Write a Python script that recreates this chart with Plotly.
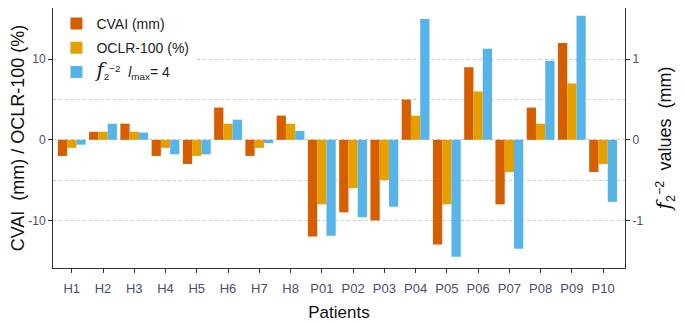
import plotly.graph_objects as go

patients = ["H1","H2","H3","H4","H5","H6","H7","H8","P01","P02","P03","P04","P05","P06","P07","P08","P09","P10"]
cvai = [-2, 1, 2, -2, -3, 4, -2, 3, -12, -9, -10, 5, -13, 9, -8, 4, 12, -4]
oclr = [-1, 1, 1, -1, -2, 2, -1, 2, -8, -6, -5, 3, -8, 6, -4, 2, 7, -3]
f2 = [-0.06, 0.20, 0.09, -0.18, -0.18, 0.25, -0.04, 0.11, -1.19, -0.96, -0.83, 1.50, -1.45, 1.13, -1.35, 0.98, 1.54, -0.77]

left_ticks = [-10, 0, 10]
minor_ticks = [-5, 5]
right_ticks = [-1, 0, 1]

c_cvai = "#D55E00"
c_oclr = "#E69F00"
c_f2 = "#56B4E9"
tick_col = "#4D4D6A"
axis_col = "#333333"

yr = [-15.9, 16.35]

f_math = "<span style='font-family:DejaVu Serif, serif;font-size:20px'><i>f</i></span><sub>2</sub><sup>−2</sup>"

fig = go.Figure()
fig.add_trace(go.Bar(x=patients, y=cvai, name="CVAI (mm)", marker_color=c_cvai,
                     offsetgroup="1", legendgroup="a", yaxis="y", marker_line_width=0))
fig.add_trace(go.Bar(x=patients, y=oclr, name="OCLR-100 (%)", marker_color=c_oclr,
                     offsetgroup="2", legendgroup="b", yaxis="y", marker_line_width=0))
fig.add_trace(go.Bar(x=patients, y=f2,
                     name=f_math + "&nbsp;&nbsp;<i>l</i><sub>max</sub>= 4",
                     marker_color=c_f2, offsetgroup="3", legendgroup="c", yaxis="y2",
                     marker_line_width=0))

fig.update_layout(
    width=677, height=314,
    margin=dict(l=43, r=60, t=0, b=54),
    paper_bgcolor="white", plot_bgcolor="white",
    barmode="group", bargap=0.11, bargroupgap=0,
    font=dict(family="Liberation Sans, Arial, sans-serif", color="#222222"),
    showlegend=True,
    legend=dict(x=0.006, y=1.0, xanchor="left", yanchor="top",
                bgcolor="white", font=dict(size=14, color="#222222"),
                tracegroupgap=3, itemwidth=30),
    xaxis=dict(
        type="category", range=[-0.6, 17.7],
        showline=True, linecolor=axis_col, linewidth=1,
        ticks="outside", ticklen=4, tickcolor=axis_col,
        ticklabelstandoff=4,
        tickfont=dict(size=13, color=tick_col),
        title=dict(text="Patients", font=dict(size=17, color="#111111"), standoff=12),
        showgrid=False,
    ),
    yaxis=dict(
        range=yr, tickvals=left_ticks, ticktext=[str(v) for v in left_ticks],
        showline=True, linecolor=axis_col, linewidth=1,
        ticks="outside", ticklen=4, tickcolor=axis_col,
        tickfont=dict(size=12, color=tick_col),
        showgrid=True, gridcolor="#CCCCCC", griddash="dot", gridwidth=1,
        minor=dict(tickvals=minor_ticks, showgrid=True, gridcolor="#CCCCCC", griddash="dot"),
        zeroline=False,
        title=dict(text="CVAI&nbsp;&nbsp;(mm) / OCLR-100 (%)", font=dict(size=18, color="#111111"), standoff=8),
    ),
    yaxis2=dict(
        overlaying="y", side="right",
        range=[yr[0] / 10, yr[1] / 10], tickvals=right_ticks,
        ticktext=[str(v) for v in right_ticks],
        showline=True, linecolor=axis_col, linewidth=1,
        ticks="outside", ticklen=4, tickcolor=axis_col,
        tickfont=dict(size=12, color=tick_col),
        showgrid=False, zeroline=False,
        title=dict(text=f_math + "&nbsp;&nbsp;values&nbsp;&nbsp;(mm)",
                   font=dict(size=18, color="#111111"), standoff=16),
    ),
)

fig.write_html("out.html")
